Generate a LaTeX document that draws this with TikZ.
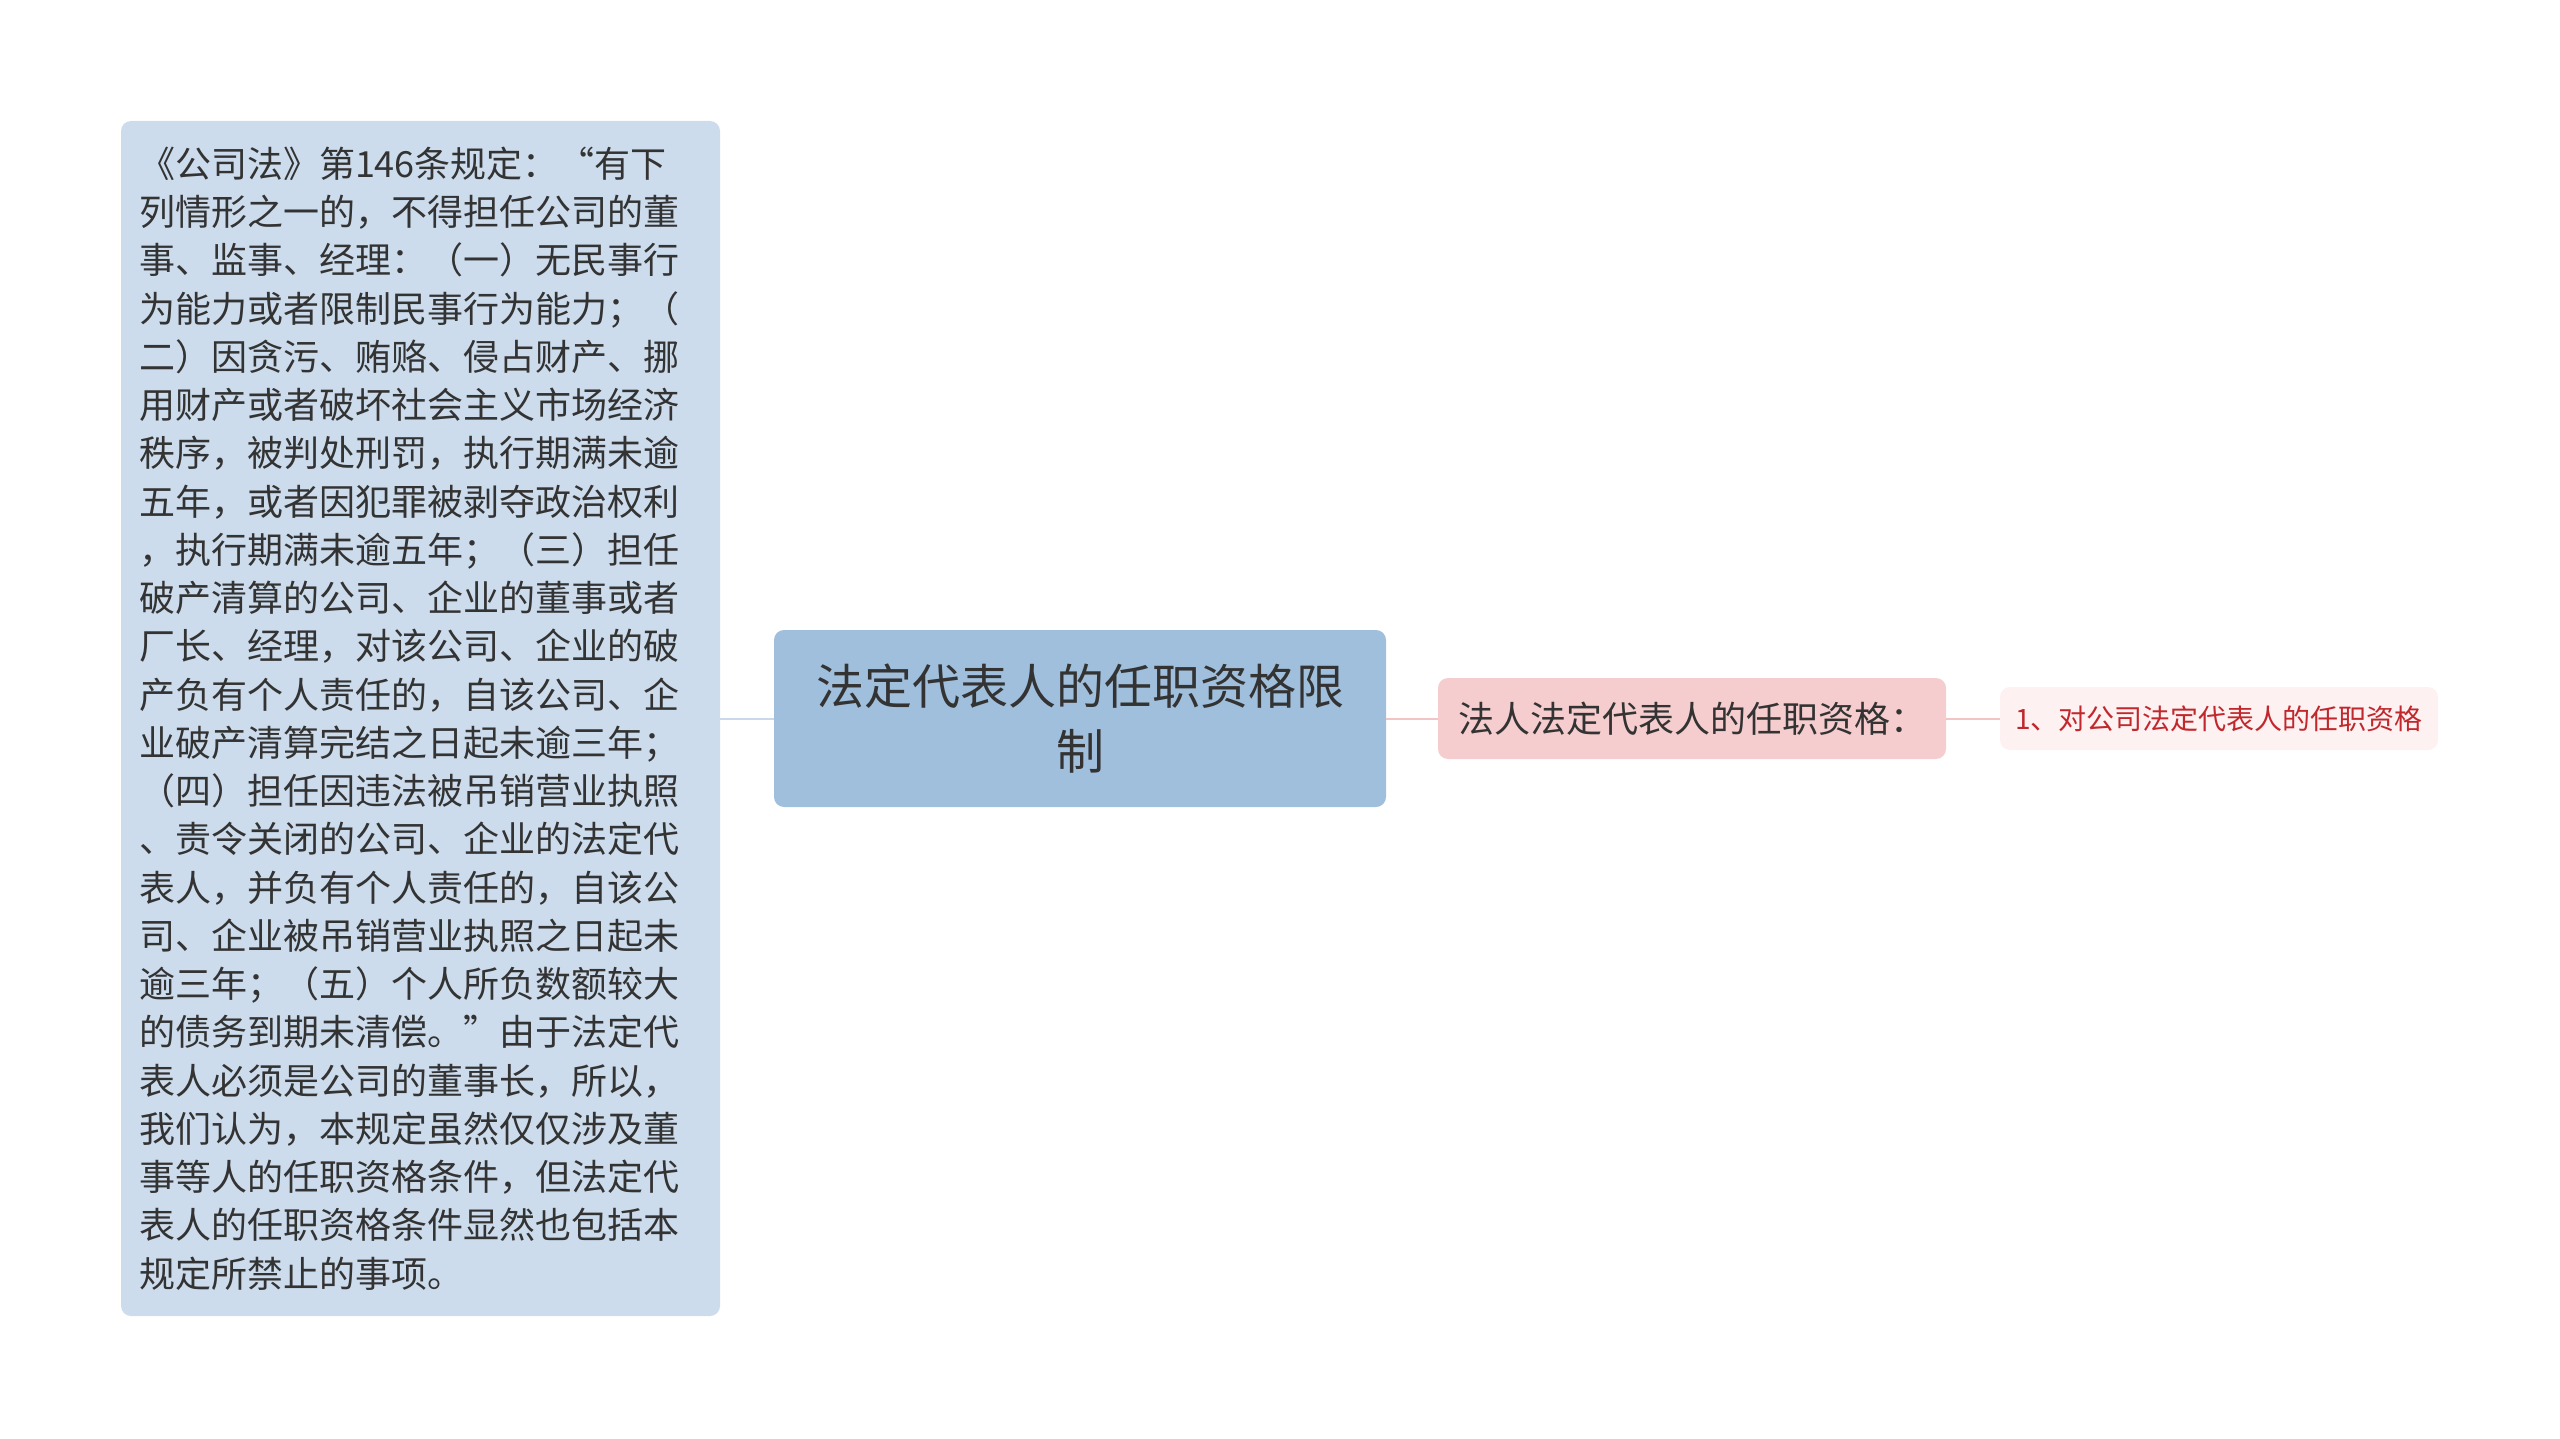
\documentclass[tikz,border=0pt]{standalone}
\usepackage{fontspec}
\setmainfont{Noto Sans CJK SC}
\usepackage{tikz}

\definecolor{leafblue}{HTML}{CCDCEC}
\definecolor{rootblue}{HTML}{A0BFDC}
\definecolor{linkblue}{HTML}{C9D9E9}
\definecolor{subpink}{HTML}{F5CDCE}
\definecolor{leafpink}{HTML}{FDF1F1}
\definecolor{linkpink}{HTML}{F2C4C4}
\definecolor{inkgray}{HTML}{333333}
\definecolor{inkred}{HTML}{C0282D}

\tikzset{
  box/.style={rounded corners=5pt, inner sep=0pt, text=inkgray},
  link/.style={line width=1pt},
}

\begin{document}
\begin{tikzpicture}[x=0.5pt, y=-0.5pt]
				\useasboundingbox (0,0) rectangle (2560,1439);
				\begin{scope}
					% centre topic
					\node[box, fill=rootblue, minimum width=306pt, minimum height=88.5pt, align=center,
					      font=\fontsize{24}{32.5}\selectfont] (root) at (1080,718.5)
					      {法定代表人的任职资格限\\制};

					% left branch: the long quotation
					\node[box, fill=leafblue, minimum width=299.5pt, minimum height=597.5pt, inner xsep=9pt,
					      text width=281.5pt, align=left, font=\fontsize{18}{24.13}\selectfont] (law) at (420.5,718.5)
					      {《公司法》第146条规定：“有下\\
					       列情形之一的，不得担任公司的董\\
					       事、监事、经理：（一）无民事行\\
					       为能力或者限制民事行为能力；（\\
					       二）因贪污、贿赂、侵占财产、挪\\
					       用财产或者破坏社会主义市场经济\\
					       秩序，被判处刑罚，执行期满未逾\\
					       五年，或者因犯罪被剥夺政治权利\\
					       ，执行期满未逾五年；（三）担任\\
					       破产清算的公司、企业的董事或者\\
					       厂长、经理，对该公司、企业的破\\
					       产负有个人责任的，自该公司、企\\
					       业破产清算完结之日起未逾三年；\\
					       （四）担任因违法被吊销营业执照\\
					       、责令关闭的公司、企业的法定代\\
					       表人，并负有个人责任的，自该公\\
					       司、企业被吊销营业执照之日起未\\
					       逾三年；（五）个人所负数额较大\\
					       的债务到期未清偿。”由于法定代\\
					       表人必须是公司的董事长，所以，\\
					       我们认为，本规定虽然仅仅涉及董\\
					       事等人的任职资格条件，但法定代\\
					       表人的任职资格条件显然也包括本\\
					       规定所禁止的事项。};

					% right branch
					\node[box, fill=subpink, minimum width=254pt, minimum height=40.5pt,
					      font=\fontsize{18}{22}\selectfont] (qual) at (1692,718.5)
					      {法人法定代表人的任职资格：};
					\node[box, fill=leafpink, text=inkred, minimum width=219pt, minimum height=31.5pt,
					      font=\fontsize{14}{18}\selectfont] (item) at (2219,718.5)
					      {1、对公司法定代表人的任职资格};

					\draw[link, linkblue] (law.east) -- (root.west); % quotation to centre
					\draw[link, linkpink] (root.east) -- (qual.west); % centre to qualification
					\draw[link, linkpink] (qual.east) -- (item.west); % qualification to item
				\end{scope}
			\end{tikzpicture}
\end{document}
